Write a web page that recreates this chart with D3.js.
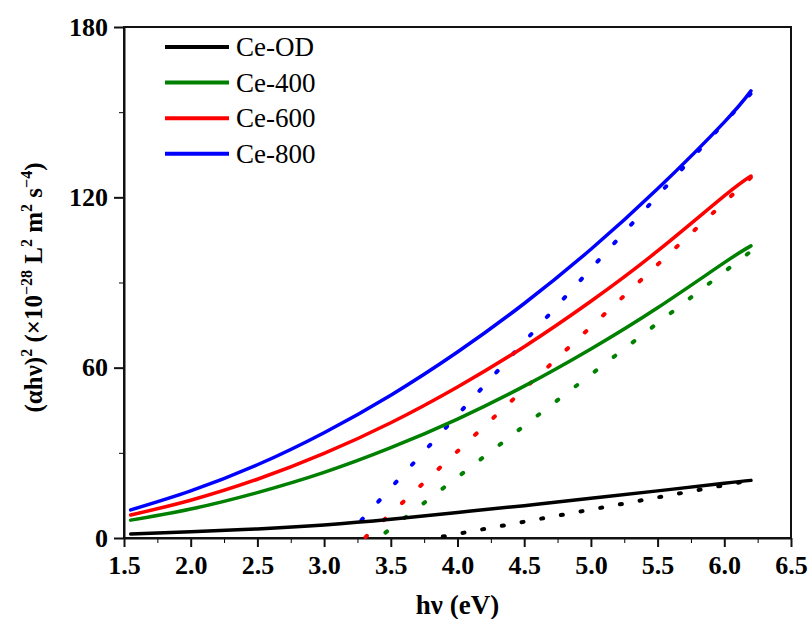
<!DOCTYPE html>
<html>
<head>
<meta charset="utf-8">
<script src="https://cdn.jsdelivr.net/npm/d3@7"></script>
<style>
  html, body { margin: 0; padding: 0; background: #fff; }
  svg { display: block; }
</style>
</head>
<body>
<svg id="chart" width="811" height="619"></svg>
<script>
// Data
const seriesNames = ["Ce-OD", "Ce-400", "Ce-600", "Ce-800"];
const hv = [1.55, 2.0, 2.5, 3.0, 3.5, 4.0, 4.5, 5.0, 5.5, 6.0, 6.2];
const ceOD = [1.4, 2.2, 3.2, 4.6, 6.6, 9.0, 11.4, 14.0, 16.6, 19.3, 20.3];
const ce400 = [6.3, 10.2, 16.0, 23.1, 31.8, 41.9, 53.5, 66.6, 81.1, 97.0, 102.9];
const ce600 = [8.1, 13.3, 20.7, 29.8, 40.6, 53.2, 67.4, 83.4, 101.1, 120.5, 127.5];
const ce800 = [9.9, 16.6, 25.8, 37.1, 50.3, 65.5, 82.6, 101.7, 123.0, 146.5, 157.5];

// tangent (dotted) lines: start and end points
const tangentX0 = [3.89, 3.46, 3.31, 3.28];
const tangentY0 = [0.5, 1.9, 0.3, 6.3];
const tangentX1 = [6.2, 6.2, 6.2, 6.2];
const tangentY1 = [20.3, 101.0, 127.0, 156.6];

const xTicks = [1.5, 2.0, 2.5, 3.0, 3.5, 4.0, 4.5, 5.0, 5.5, 6.0, 6.5];
const yTicks = [0, 60, 120, 180];

const colors = ["#000000", "#008000", "#ff0000", "#0000ff"];
const dotGaps = [18, 22, 23, 23];

const svg = d3.select("#chart");
const margin = { top: 27, right: 20, bottom: 81, left: 124 };
const width = 811, height = 619;
const font = "Liberation Serif";

const x = d3.scaleLinear().domain([1.5, 6.5]).range([margin.left, width - margin.right]);
const y = d3.scaleLinear().domain([0, 180]).range([height - margin.bottom, margin.top]);

const allSeries = [ceOD, ce400, ce600, ce800];

// minor ticks
svg.append("g")
  .attr("transform", `translate(0,${y(0)})`)
  .call(d3.axisBottom(x).tickValues(d3.range(1.75, 6.5, 0.5)).tickSize(5).tickFormat(""))
  .call(g => g.select(".domain").remove());
svg.append("g")
  .attr("transform", `translate(${x(1.5)},0)`)
  .call(d3.axisLeft(y).tickValues([30, 90, 150]).tickSize(5).tickFormat(""))
  .call(g => g.select(".domain").remove());

// major axes
const xAxis = svg.append("g")
  .attr("transform", `translate(0,${y(0)})`)
  .call(d3.axisBottom(x).tickValues(xTicks).tickSize(9).tickSizeOuter(0).tickPadding(7).tickFormat(d3.format(".1f")));
const yAxis = svg.append("g")
  .attr("transform", `translate(${x(1.5)},0)`)
  .call(d3.axisLeft(y).tickValues(yTicks).tickSize(10).tickSizeOuter(0).tickPadding(6).tickFormat(d3.format("d")));

[xAxis, yAxis].forEach(g => {
  g.attr("font-family", font);
  g.selectAll("text")
    .attr("font-family", font)
    .attr("font-weight", "bold")
    .attr("font-size", 26)
    .attr("fill", "#000");
  g.selectAll("line, path").attr("stroke", "#111").attr("stroke-width", 2);
});
xAxis.selectAll("text").attr("dy", "0.76em");

// frame
svg.append("rect")
  .attr("x", x(1.5)).attr("y", y(180))
  .attr("width", x(6.5) - x(1.5)).attr("height", y(0) - y(180))
  .attr("fill", "none").attr("stroke", "#111").attr("stroke-width", 2);

// dotted tangent lines
seriesNames.forEach((name, i) => {
  svg.append("line")
    .attr("x1", x(tangentX0[i])).attr("y1", y(tangentY0[i]))
    .attr("x2", x(tangentX1[i])).attr("y2", y(tangentY1[i]))
    .attr("stroke", colors[i])
    .attr("stroke-width", 4)
    .attr("stroke-linecap", "round")
    .attr("stroke-dasharray", `2 ${dotGaps[i]}`);
});

// curves
const line = d3.line().x(d => x(d[0])).y(d => y(d[1])).curve(d3.curveNatural);
allSeries.forEach((vals, i) => {
  svg.append("path")
    .datum(hv.map((h, j) => [h, vals[j]]))
    .attr("d", line)
    .attr("fill", "none")
    .attr("stroke", colors[i])
    .attr("stroke-width", 3.5)
    .attr("stroke-linecap", "round");
});

// legend
const legend = svg.append("g").attr("transform", "translate(165,47)");
seriesNames.forEach((name, i) => {
  const row = legend.append("g").attr("transform", `translate(0,${i * 35.6})`);
  row.append("line")
    .attr("x1", 0).attr("x2", 64)
    .attr("stroke", colors[i]).attr("stroke-width", 4);
  row.append("text")
    .attr("x", 71).attr("y", 9)
    .attr("font-family", font)
    .attr("font-size", 27)
    .attr("fill", "#000")
    .text(name);
});

// axis titles
svg.append("text")
  .attr("x", (x(1.5) + x(6.5)) / 2)
  .attr("y", 614)
  .attr("text-anchor", "middle")
  .attr("font-family", font)
  .attr("font-weight", "bold")
  .attr("font-size", 27)
  .text("hν (eV)");

const yTitle = svg.append("text")
  .attr("transform", `translate(42,${(y(0) + y(180)) / 2 + 5}) rotate(-90)`)
  .attr("text-anchor", "middle")
  .attr("font-family", font)
  .attr("font-weight", "bold")
  .attr("font-size", 25);
const parts = [
  ["(αhν)", 0], ["2", 1], [" (×10", 0], ["−28", 1], [" L", 0], ["2", 1],
  [" m", 0], ["2", 1], [" s", 0], ["−4", 1], [")", 0]
];
let prevSup = 0;
parts.forEach(([t, sup]) => {
  const ts = yTitle.append("tspan").text(t);
  if (sup) ts.attr("font-size", 16);
  const dy = sup === prevSup ? 0 : (sup ? -10 : 10);
  if (dy) ts.attr("dy", dy);
  prevSup = sup;
});
</script>
</body>
</html>
